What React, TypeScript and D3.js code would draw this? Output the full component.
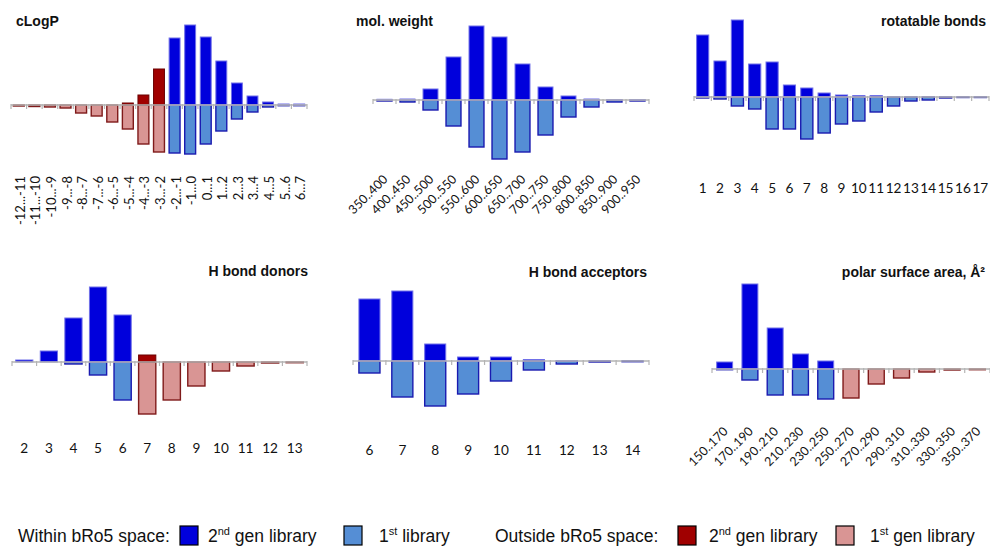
import React from "react";
import * as d3 from "d3";

// ---------- data ----------
const cLogPCats = ["-12...-11","-11...-10","-10...-9","-9...-8","-8...-7","-7...-6","-6...-5","-5...-4","-4...-3","-3...-2","-2...-1","-1...0","0...1","1...2","2...3","3...4","4...5","5...6","6...7"];
const cLogPGen2 = [0,0,0,0,0,0,0,2,10,36,67,80,68,44,22,9,3,1,1];
const cLogPGen1 = [1,1.5,2,3,8,11,17,24,39,47,48,49,39,26,14,7,2,0.7,0.7];
const cLogPOutside = 10; // first N categories outside bRo5

const mwCats = ["350..400","400..450","450..500","500..550","550..600","600..650","650..700","700..750","750..800","800..850","850..900","900..950"];
const mwGen2 = [0.7,1,11,43,74,63,36,13,4,1,0.5,0.5];
const mwGen1 = [1,2,10,26,47,59,52,35,17,7,2,1];

const rbCats = ["1","2","3","4","5","6","7","8","9","10","11","12","13","14","15","16","17"];
const rbGen2 = [62,36,77,33,35,12,9,4,2,1.5,1.5,0,0,0,0,0,0];
const rbGen1 = [1,2,9,12,32,32,42,36,27,24,15,9,4,3,1,0.5,0.5];

const hbdCats = ["2","3","4","5","6","7","8","9","10","11","12","13"];
const hbdGen2 = [2,11,44,75,47,7,0,0,0,0,0,0];
const hbdGen1 = [0,0,2,13,38,52,38,24,9,4,1,0.7];
const hbdOutsideFrom = 5;

const hbaCats = ["6","7","8","9","10","11","12","13","14"];
const hbaGen2 = [62,70,17,4,4,1.5,0.5,0,0];
const hbaGen1 = [12,36,45,33,20,9,3,1,0.7];

const psaCats = ["150..170","170..190","190..210","210..230","230..250","250..270","270..290","290..310","310..330","330..350","350..370"];
const psaGen2 = [7,85,41,15,8,0,0,0,0,0,0];
const psaGen1 = [0.7,11,26,26,30,29,15,9,3,1,0.7];
const psaOutsideFrom = 5;

// ---------- style ----------
const C = {
  in2: "#0000DC", in2Stroke: "#7070E8",
  in1: "#558ED5", in1Stroke: "#1A1AB0",
  out2: "#A00000", out2Stroke: "#6A0000",
  out1: "#D99594", out1Stroke: "#7F1A1A",
  axis: "#B4B4B4",
};

type Panel = {
  title: string; titleX: number; titleY: number; titleAnchor: "start" | "end";
  x0: number; x1: number; axisY: number; pad: number;
  cats: string[]; gen2: number[]; gen1: number[]; outside: (i: number) => boolean;
  labelMode: "v" | "d" | "h"; labelY: number; labelDx: number;
};

const panels: Panel[] = [
  { title: "cLogP", titleX: 16, titleY: 26, titleAnchor: "start", x0: 11, x1: 307, axisY: 105, pad: 0.3,
    cats: cLogPCats, gen2: cLogPGen2, gen1: cLogPGen1, outside: (i) => i < cLogPOutside, labelMode: "v", labelY: 176, labelDx: 6 },
  { title: "mol. weight", titleX: 356, titleY: 26, titleAnchor: "start", x0: 373, x1: 649, axisY: 100, pad: 0.35,
    cats: mwCats, gen2: mwGen2, gen1: mwGen1, outside: () => false, labelMode: "d", labelY: 180, labelDx: 4 },
  { title: "rotatable bonds", titleX: 986, titleY: 26, titleAnchor: "end", x0: 694, x1: 989, axisY: 97, pad: 0.3,
    cats: rbCats, gen2: rbGen2, gen1: rbGen1, outside: () => false, labelMode: "h", labelY: 193, labelDx: 0 },
  { title: "H bond donors", titleX: 308, titleY: 276, titleAnchor: "end", x0: 12, x1: 307, axisY: 362, pad: 0.3,
    cats: hbdCats, gen2: hbdGen2, gen1: hbdGen1, outside: (i) => i >= hbdOutsideFrom, labelMode: "h", labelY: 453, labelDx: 0 },
  { title: "H bond acceptors", titleX: 647, titleY: 277, titleAnchor: "end", x0: 353, x1: 649, axisY: 361, pad: 0.36,
    cats: hbaCats, gen2: hbaGen2, gen1: hbaGen1, outside: () => false, labelMode: "h", labelY: 455, labelDx: 0 },
  { title: "polar surface area, Å²", titleX: 985, titleY: 277, titleAnchor: "end", x0: 712, x1: 990, axisY: 369, pad: 0.37,
    cats: psaCats, gen2: psaGen2, gen1: psaGen1, outside: (i) => i >= psaOutsideFrom, labelMode: "d", labelY: 432, labelDx: 4 },
];

const yScale = d3.scaleLinear().domain([0, 100]).range([0, 100]);

const labelFont = "Lato, 'Open Sans', sans-serif";
const titleFont = "'Liberation Sans', Arial, sans-serif";

function PanelView({ p }: { p: Panel }) {
  const x = d3.scaleBand<string>().domain(p.cats).range([p.x0, p.x1]).paddingInner(p.pad).paddingOuter(p.pad / 2);
  const step = x.step();
  const bw = x.bandwidth();
  const boundaries = d3.range(p.cats.length + 1).map((i) => p.x0 + i * step);
  return (
    <g>
      <text x={p.titleX} y={p.titleY} textAnchor={p.titleAnchor} fontFamily={titleFont} fontWeight="bold" fontSize={14} fill="#111">{p.title}</text>
      {p.cats.map((c, i) => {
        const out = p.outside(i);
        const h2 = yScale(p.gen2[i]);
        const h1 = yScale(p.gen1[i]);
        const bx = x(c)!;
        return (
          <g key={c}>
            {p.gen1[i] > 0 && (
              <rect x={bx} y={p.axisY} width={bw} height={h1}
                fill={out ? C.out1 : C.in1} stroke={out ? C.out1Stroke : C.in1Stroke} strokeWidth={1.4} />
            )}
            {p.gen2[i] > 0 && (
              <rect x={bx} y={p.axisY - h2} width={bw} height={h2}
                fill={out ? C.out2 : C.in2} stroke={out ? C.out2Stroke : C.in2Stroke} strokeWidth={1} />
            )}
          </g>
        );
      })}
      <line x1={p.x0} x2={p.x1} y1={p.axisY} y2={p.axisY} stroke={C.axis} strokeWidth={1.6} />
      {boundaries.map((bx, i) => (
        <line key={i} x1={bx} x2={bx} y1={p.axisY - 1} y2={p.axisY + 4} stroke={C.axis} strokeWidth={1.2} />
      ))}
      {p.cats.map((c) => {
        const cx = x(c)! + bw / 2;
        if (p.labelMode === "h") {
          return <text key={c} x={cx} y={p.labelY} textAnchor="middle" fontFamily={labelFont} fontSize={13.6} fill="#111">{c}</text>;
        }
        if (p.labelMode === "v") {
          return <text key={c} transform={`translate(${cx + p.labelDx},${p.labelY}) rotate(-90)`} textAnchor="end" fontFamily={labelFont} fontSize={13} fill="#111">{c}</text>;
        }
        return <text key={c} transform={`translate(${cx + p.labelDx},${p.labelY}) rotate(-45)`} textAnchor="end" fontFamily={labelFont} fontSize={12.5} fill="#111">{c}</text>;
      })}
    </g>
  );
}

const legendItems = [
  { kind: "head", text: "Within bRo5 space:", x: 18 },
  { kind: "sw", fill: C.in2, x: 180 },
  { kind: "lab", num: "2", sup: "nd", rest: " gen library", x: 208 },
  { kind: "sw", fill: C.in1, x: 344 },
  { kind: "lab", num: "1", sup: "st", rest: " library", x: 379 },
  { kind: "head", text: "Outside bRo5 space:", x: 495 },
  { kind: "sw", fill: C.out2, x: 678 },
  { kind: "lab", num: "2", sup: "nd", rest: " gen library", x: 709 },
  { kind: "sw", fill: C.out1, x: 836 },
  { kind: "lab", num: "1", sup: "st", rest: " gen library", x: 870 },
];

export default function App() {
  const ly = 542;
  return (
    <svg width={990} height={546} style={{ position: "absolute", left: 0, top: 0, background: "#fff" }}>
      <rect x={0} y={0} width={990} height={546} fill="#fff" />
      {panels.map((p) => <PanelView key={p.title} p={p} />)}
      <g fontFamily={titleFont} fontSize={17.5} fill="#111">
        {legendItems.map((it, i) => {
          if (it.kind === "head") return <text key={i} x={it.x} y={ly}>{it.text}</text>;
          if (it.kind === "sw") return <rect key={i} x={it.x} y={526} width={18} height={19} fill={it.fill} stroke="#000" strokeWidth={1.2} />;
          return (
            <text key={i} x={it.x} y={ly}>
              {it.num}<tspan dy={-7} fontSize={11}>{it.sup}</tspan><tspan dy={7}>{it.rest}</tspan>
            </text>
          );
        })}
      </g>
    </svg>
  );
}
